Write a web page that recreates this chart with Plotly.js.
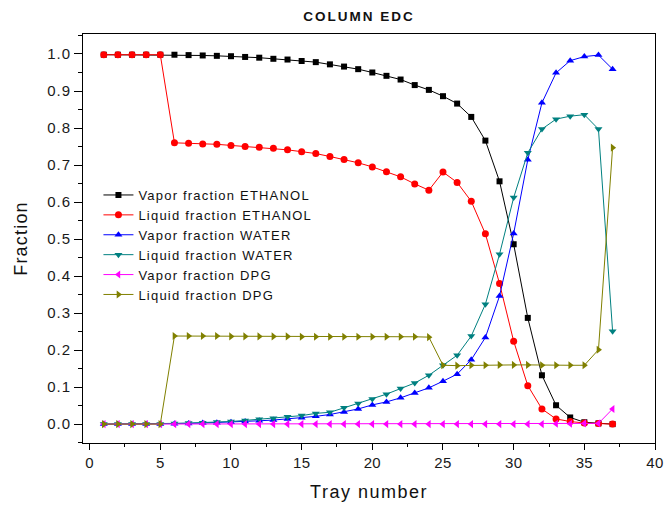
<!DOCTYPE html>
<html>
<head>
<meta charset="utf-8">
<script src="https://cdn.plot.ly/plotly-3.0.1.min.js"></script>
<style>html,body{margin:0;padding:0;background:#fff}#chart{width:665px;height:506px}</style>
</head>
<body>
<div id="chart"></div>
<script>
const trays = [1,2,3,4,5,6,7,8,9,10,11,12,13,14,15,16,17,18,19,20,21,22,23,24,25,26,27,28,29,30,31,32,33,34,35,36,37];

const vaporEthanol = [0.998,0.998,0.998,0.998,0.998,0.998,0.997,0.996,0.995,0.994,0.992,0.990,0.987,0.985,0.981,0.978,0.972,0.966,0.959,0.950,0.941,0.931,0.916,0.903,0.886,0.866,0.830,0.766,0.656,0.486,0.287,0.132,0.051,0.018,0.005,0.002,0.000];
const liquidEthanol = [0.998,0.998,0.998,0.998,0.998,0.760,0.759,0.757,0.756,0.753,0.750,0.748,0.745,0.741,0.736,0.731,0.723,0.715,0.706,0.695,0.682,0.668,0.649,0.632,0.681,0.653,0.602,0.514,0.380,0.224,0.104,0.041,0.014,0.007,0.003,0.002,0.000];
const vaporWater = [0.000,0.000,0.000,0.000,0.000,0.001,0.002,0.003,0.004,0.005,0.007,0.009,0.011,0.014,0.017,0.021,0.026,0.033,0.041,0.052,0.060,0.071,0.084,0.098,0.116,0.135,0.174,0.234,0.346,0.515,0.714,0.868,0.949,0.982,0.993,0.997,0.959];
const liquidWater = [0.000,0.000,0.000,0.000,0.000,0.002,0.003,0.004,0.006,0.007,0.010,0.013,0.016,0.020,0.023,0.029,0.032,0.044,0.056,0.068,0.081,0.096,0.111,0.132,0.159,0.186,0.238,0.324,0.459,0.612,0.733,0.797,0.824,0.832,0.836,0.797,0.251];
const vaporDPG = [0.000,0.000,0.000,0.000,0.000,0.000,0.000,0.000,0.000,0.000,0.000,0.000,0.000,0.000,0.000,0.000,0.000,0.000,0.000,0.000,0.000,0.000,0.000,0.000,0.000,0.000,0.000,0.000,0.000,0.000,0.000,0.000,0.001,0.001,0.002,0.002,0.041];
const liquidDPG = [0.000,0.000,0.000,0.000,0.000,0.238,0.238,0.238,0.238,0.237,0.237,0.237,0.237,0.237,0.236,0.236,0.236,0.236,0.236,0.236,0.236,0.236,0.236,0.235,0.159,0.158,0.159,0.159,0.160,0.160,0.160,0.159,0.159,0.159,0.159,0.201,0.747];

const seriesNames = ["Vapor fraction ETHANOL","Liquid fraction ETHANOL","Vapor fraction WATER","Liquid fraction WATER","Vapor fraction DPG","Liquid fraction DPG"];
const xTickVals = [0,5,10,15,20,25,30,35,40];
const xTickLabels = ["0","5","10","15","20","25","30","35","40"];
const yTickVals = [0,0.1,0.2,0.3,0.4,0.5,0.6,0.7,0.8,0.9,1.0];
const yTickLabels = ["0.0","0.1","0.2","0.3","0.4","0.5","0.6","0.7","0.8","0.9","1.0"];
const chartTitle = "COLUMN EDC";
const xTitle = "Tray number";
const yTitle = "Fraction";

const seriesData = [vaporEthanol, liquidEthanol, vaporWater, liquidWater, vaporDPG, liquidDPG];
const colors = ["#000000","#ff0000","#0000ff","#008080","#ff00ff","#808000"];
const symbols = ["square","circle","triangle-up","triangle-down","triangle-left","triangle-right"];
const sizes = [6,7,7,7,7,7];

const sp = (t, px) => '<span style="letter-spacing:' + px + 'px">' + t + '</span>';

const traces = seriesNames.map((n,i)=>({
  x: trays, y: seriesData[i], name: sp(n, 1.2), type: 'scatter', mode: 'lines+markers',
  line: {color: colors[i], width: 1},
  marker: {symbol: symbols[i], color: colors[i], size: sizes[i]}
}));

const font = "Liberation Sans, Arial, sans-serif";
const layout = {
  width: 665, height: 506,
  margin: {l: 83, r: 10, t: 34, b: 63},
  paper_bgcolor: '#fff', plot_bgcolor: '#fff',
  title: {text: '<b>' + sp(chartTitle, 2) + '</b>', x: 0.54, xanchor: 'center', y: 0.968, yanchor: 'middle', font: {family: font, size: 13.5, color: '#111'}},
  showlegend: true,
  legend: {x: 0.027, y: 0.643, xanchor: 'left', yanchor: 'top', bgcolor: 'rgba(0,0,0,0)', font: {family: font, size: 13, color: '#111'}, tracegroupgap: 0, itemwidth: 30},
  xaxis: {
    range: [-0.47, 40], tickvals: xTickVals, ticktext: xTickLabels.map(t=>sp(t,0.3)), ticks: 'outside', ticklen: 6, tickwidth: 1, tickcolor: '#000',
    showline: true, linecolor: '#000', linewidth: 1, mirror: true, showgrid: false, zeroline: false,
    minor: {dtick: 2.5, tick0: 0, ticks: 'outside', ticklen: 3, tickcolor: '#000', showgrid: false},
    tickfont: {family: font, size: 15, color: '#1a1a1a'},
    title: {text: sp(xTitle, 1.5), font: {family: font, size: 18, color: '#111'}, standoff: 15}
  },
  yaxis: {
    range: [-0.051, 1.054], tickvals: yTickVals, ticktext: yTickLabels.map(t=>sp(t,1)), ticks: 'outside', ticklen: 8, tickwidth: 1, tickcolor: '#000',
    showline: true, linecolor: '#000', linewidth: 1, mirror: true, showgrid: false, zeroline: false,
    minor: {dtick: 0.05, tick0: 0, ticks: 'outside', ticklen: 4, tickcolor: '#000', showgrid: false},
    tickfont: {family: font, size: 15, color: '#1a1a1a'},
    title: {text: sp(yTitle, 1.2), font: {family: font, size: 18, color: '#111'}, standoff: 14}
  }
};
Plotly.newPlot('chart', traces, layout, {displayModeBar: false, staticPlot: true});
</script>
</body>
</html>
